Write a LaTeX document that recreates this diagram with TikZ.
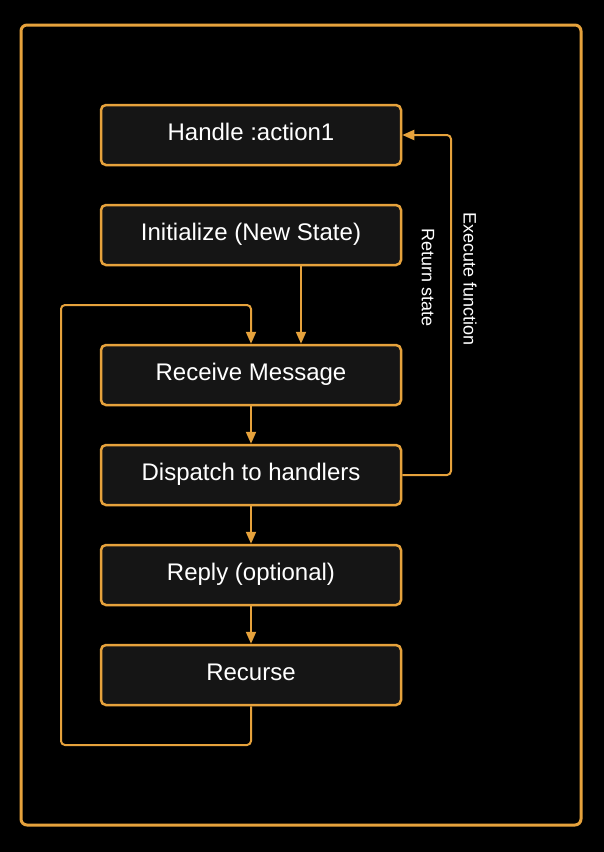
\documentclass[tikz,border=0pt]{standalone}
\usepackage{fontspec}
\setmainfont{Liberation Sans}
\usetikzlibrary{arrows.meta}
\definecolor{orng}{HTML}{E6A23C}
\definecolor{boxfill}{HTML}{151515}
\tikzset{
  stepbox/.style={draw=orng, line width=2.5pt, fill=boxfill, rounded corners=5pt,
    minimum width=300pt, minimum height=60pt, inner sep=0pt, text=white,
    text height=17pt, text depth=7pt,
    font=\fontsize{24pt}{28pt}\selectfont},
  conn/.style={draw=orng, line width=2pt, rounded corners=4pt},
  arr/.style={conn, -{Triangle[width=10pt,length=12pt]}},
  lbl/.style={text=white, font=\fontsize{18pt}{22pt}\selectfont, inner sep=0pt},
  framebox/.style={draw=orng, line width=3pt, rounded corners=6pt,
    minimum width=560pt, minimum height=800pt, inner sep=0pt}
}
\begin{document}
\begin{tikzpicture}[x=1pt,y=-1pt]
\fill[black] (0,0) rectangle (604,852);
\useasboundingbox (0,0) rectangle (604,852);
\node[framebox] (frame) at (301,425) {};
\node[stepbox] (handle) at (251,135) {Handle :action1};
\node[stepbox] (init) at (251,235) {Initialize (New State)};
\node[stepbox] (recv) at (251,375) {Receive Message};
\node[stepbox] (disp) at (251,475) {Dispatch to handlers};
\node[stepbox] (reply) at (251,575) {Reply (optional)};
\node[stepbox] (rec) at (251,675) {Recurse};
\coordinate (loopL) at (61,745);
\coordinate (loopT) at (61,305);
\coordinate (exR) at (451,135);
\draw[arr] ([xshift=50pt]init.south) -- ([xshift=50pt]recv.north);
\draw[arr] (recv.south) -- (disp.north);
\draw[arr] (disp.south) -- (reply.north);
\draw[arr] (reply.south) -- (rec.north);
\draw[arr] (rec.south) |- (loopL) -- (loopT) -| (recv.north);
\draw[arr] (disp.east) -| (exR) -- (handle.east);
\node[lbl, rotate=-90] (exlbl) at (470,279) {Execute function};
\node[lbl, rotate=-90] (retlbl) at (428,278) {Return state};
\end{tikzpicture}
\end{document}
